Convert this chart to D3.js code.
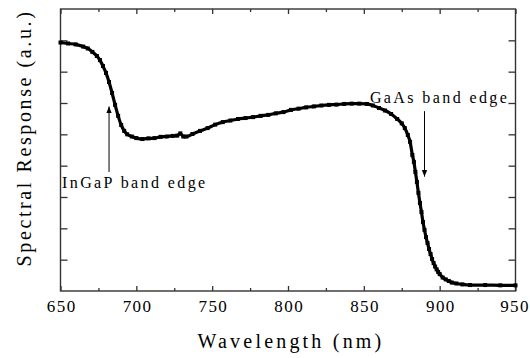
<!DOCTYPE html>
<html><head><meta charset="utf-8">
<script src="https://cdn.jsdelivr.net/npm/d3@7"></script>
<style>
html,body{margin:0;padding:0;background:#fff;}
</style></head>
<body><svg id="chart" width="530" height="358"></svg>
<script>
// wavelength (nm)
const wavelength = [650,655,660,665,668,671,674,676,678,680,682,684,686,688,690,692,694,697,700,704,708,712,716,720,724,727,729,731,733,737,742,747,752,757,762,767,772,777,782,787,792,797,802,807,812,817,822,827,832,837,842,847,852,856,860,864,868,872,875,877,879,880.5,882,883,884,885,886,887,888,889,890,891,892,893,894,895,896,897,898,899,900,902,904,906,908,911,915,920,930,940,950];
// spectral response (a.u.)
const response = [7.93,7.90,7.87,7.80,7.74,7.63,7.50,7.37,7.18,6.96,6.67,6.32,5.94,5.59,5.30,5.11,5.00,4.93,4.88,4.85,4.87,4.88,4.92,4.93,4.95,4.96,5.03,4.93,4.93,5.01,5.11,5.20,5.31,5.39,5.44,5.49,5.52,5.55,5.59,5.62,5.67,5.71,5.78,5.82,5.86,5.89,5.92,5.94,5.95,5.97,5.98,5.98,5.97,5.92,5.84,5.76,5.65,5.49,5.35,5.20,4.98,4.76,4.34,4.12,3.80,3.48,3.13,2.81,2.52,2.20,1.95,1.72,1.53,1.34,1.18,1.02,0.89,0.78,0.69,0.61,0.54,0.43,0.37,0.32,0.27,0.24,0.21,0.19,0.19,0.18,0.18];
const xTicks = [650,700,750,800,850,900,950];
const xMinor = [675,725,775,825,875,925];
const yTicks = [1,2,3,4,5,6,7,8];
const annotations = [
  {text:"InGaP band edge", x:651, y:3.3, ax:682, ay0:3.8, ay1:5.89},
  {text:"GaAs band edge", x:854, y:5.99, ax:890, ay0:5.74, ay1:3.65}
];

const FONT = "Liberation Serif";
const svg = d3.select("#chart");
const L=60.5, R=515.5, T=9, B=291;
const x = d3.scaleLinear().domain([650,950]).range([L,R]);
const y = d3.scaleLinear().domain([0,9]).range([B,T]);
const axisColor="#333";

svg.append("rect").attr("x",L).attr("y",T).attr("width",R-L).attr("height",B-T)
  .attr("fill","none").attr("stroke",axisColor).attr("stroke-width",1.4);

function styleTicks(g){ g.select(".domain").remove(); g.selectAll("line").attr("stroke",axisColor).attr("stroke-width",1.3); return g; }

const gB = styleTicks(svg.append("g").attr("transform",`translate(0,${B})`)
  .call(d3.axisBottom(x).tickValues(xTicks).tickSize(-5).tickFormat(d3.format("d"))));
gB.selectAll("text").style("font-family",FONT).style("font-size","17px")
  .attr("letter-spacing","1.4px").attr("y",21).attr("dy",0)
  .attr("dx",d=>d===950?-1:0.7).attr("fill","#000");

styleTicks(svg.append("g").attr("transform",`translate(0,${B})`)
  .call(d3.axisBottom(x).tickValues(xMinor).tickSize(-3).tickFormat("")));
styleTicks(svg.append("g").attr("transform",`translate(0,${T})`)
  .call(d3.axisTop(x).tickValues(xTicks).tickSize(-5).tickFormat("")));
styleTicks(svg.append("g").attr("transform",`translate(0,${T})`)
  .call(d3.axisTop(x).tickValues(xMinor).tickSize(-3).tickFormat("")));
styleTicks(svg.append("g").attr("transform",`translate(${L},0)`)
  .call(d3.axisLeft(y).tickValues(yTicks).tickSize(-7).tickFormat("")));
styleTicks(svg.append("g").attr("transform",`translate(${R},0)`)
  .call(d3.axisRight(y).tickValues(yTicks).tickSize(-7).tickFormat("")));

const data = wavelength.map((w,i)=>({w, v:response[i]}));
svg.append("path").datum(data)
  .attr("d", d3.line().x(d=>x(d.w)).y(d=>y(d.v)).curve(d3.curveMonotoneX))
  .attr("fill","none").attr("stroke","#000").attr("stroke-width",3.2).attr("stroke-linejoin","round");
svg.append("g").selectAll("rect").data(data).join("rect")
  .attr("x",d=>x(d.w)-2).attr("y",d=>y(d.v)-2).attr("width",4).attr("height",4).attr("fill","#000");

svg.append("defs").append("marker").attr("id","ah").attr("viewBox","0 0 10 10")
  .attr("refX",10).attr("refY",5).attr("markerWidth",7).attr("markerHeight",7)
  .attr("markerUnits","userSpaceOnUse").attr("orient","auto")
  .append("path").attr("d","M0,1 L10,5 L0,9 Z").attr("fill","#000");
annotations.forEach(a=>{
  svg.append("line").attr("x1",x(a.ax)).attr("x2",x(a.ax)).attr("y1",y(a.ay0)).attr("y2",y(a.ay1))
    .attr("stroke","#000").attr("stroke-width",1).attr("marker-end","url(#ah)");
  svg.append("text").attr("x",x(a.x)).attr("y",y(a.y)).style("font-family",FONT).style("font-size","16px")
    .attr("letter-spacing","2.4px").text(a.text);
});

svg.append("text").attr("x",(L+R)/2+3).attr("y",348).attr("text-anchor","middle").style("font-family",FONT)
  .style("font-size","20px").attr("letter-spacing","3.2px").text("Wavelength (nm)");
svg.append("text").attr("transform",`translate(31,138) rotate(-90)`).style("font-family",FONT)
  .attr("text-anchor","middle").style("font-size","20px").attr("letter-spacing","2.6px")
  .text("Spectral Response (a.u.)");
</script></body></html>
